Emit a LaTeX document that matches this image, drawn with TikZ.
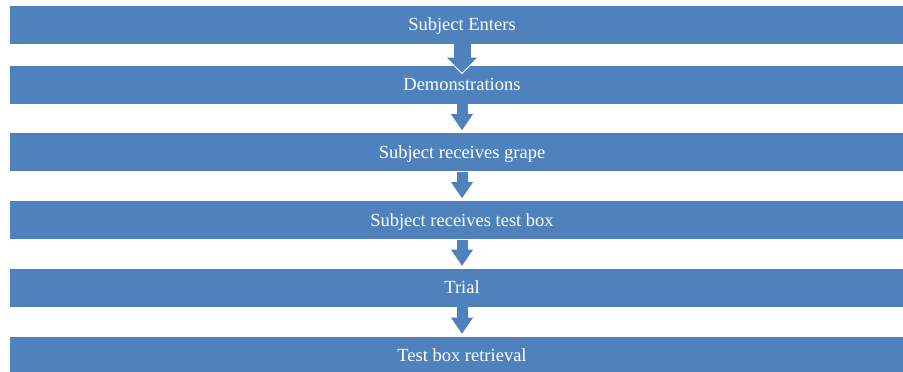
\documentclass[tikz,border=0pt]{standalone}
\usepackage{fontspec}
\setmainfont{Liberation Serif}
\usetikzlibrary{arrows.meta}
\definecolor{stepblue}{HTML}{4F81BD}
\tikzset{
  stepbox/.style = {rectangle, draw=white, line width=0.6pt, fill=stepblue, minimum width=905pt, minimum height=39pt, inner sep=0, text height=12.6pt, text depth=0pt, text=white, font=\fontsize{18.5}{22}\selectfont},
  flow/.style    = {stepblue, line width=11pt, -{Triangle[width=22pt, length=16pt, line width=0pt]}},
  flowrim/.style = {white, line width=14pt, -{Triangle[width=27pt, length=19pt, line width=0pt]}},
  bigflow/.style = {stepblue, line width=17pt, -{Triangle[width=30pt, length=15pt, line width=0pt]}},
  bigrim/.style  = {white, line width=20pt, -{Triangle[width=35pt, length=18pt, line width=0pt]}}
}

\begin{document}
\begin{tikzpicture}[x=1pt, y=1pt]

  \clip (0,0) rectangle (903,-372);

  % ---------- steps ----------
  \node[stepbox] (enter) at (462,-24.5) {Subject Enters};
  \node[stepbox] (demo)  at (462,-84.5) {Demonstrations};
  \node[stepbox] (grape) at (462,-152)  {Subject receives grape};
  \node[stepbox] (tbox)  at (462,-220)  {Subject receives test box};
  \node[stepbox] (trial) at (462,-287.5){Trial};
  \node[stepbox] (back)  at (462,-355.5){Test box retrieval};

  % ---------- arrows ----------
  \draw[bigrim, shorten >=-9.5pt] (enter.south) -- (demo.north);
  \draw[bigflow, shorten >=-8pt]  (enter.south) -- (demo.north);

  \draw[flowrim, shorten >=0.5pt] (demo.south) -- (grape.north);
  \draw[flow, shorten >=2pt]      (demo.south) -- (grape.north);

  \draw[flowrim, shorten >=0.5pt] (grape.south) -- (tbox.north);
  \draw[flow, shorten >=2pt]      (grape.south) -- (tbox.north);

  \draw[flowrim, shorten >=0.5pt] (tbox.south) -- (trial.north);
  \draw[flow, shorten >=2pt]      (tbox.south) -- (trial.north);

  \draw[flowrim, shorten >=0.5pt] (trial.south) -- (back.north);
  \draw[flow, shorten >=2pt]      (trial.south) -- (back.north);

\end{tikzpicture}
\end{document}
